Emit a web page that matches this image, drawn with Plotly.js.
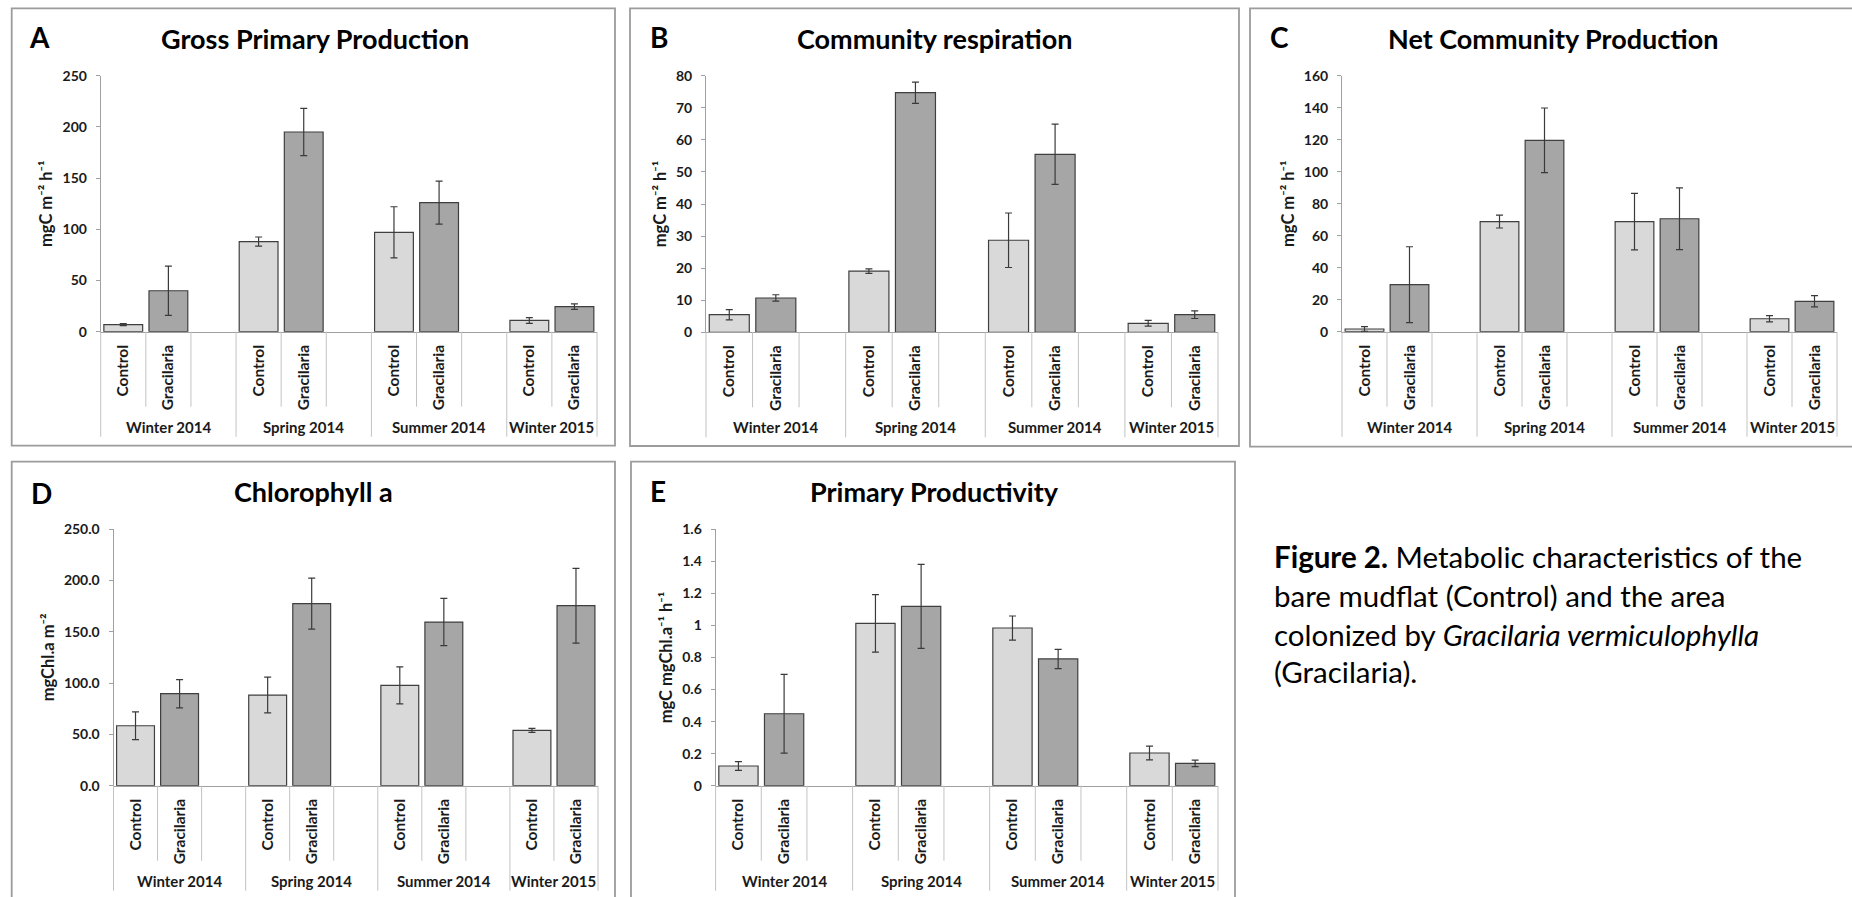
<!DOCTYPE html>
<html>
<head>
<meta charset="utf-8">
<script src="https://cdn.plot.ly/plotly-3.0.1.min.js"></script>
<style>
html,body{margin:0;padding:0;background:#fff;overflow:hidden}
#chart{width:1852px;height:897px}
</style>
</head>
<body>
<div id="chart"></div>
<script>
// ---------------- DATA ----------------
const seasons = ['Winter 2014', 'Spring 2014', 'Summer 2014', 'Winter 2015'];
const treatments = ['Control', 'Gracilaria'];

const panelLetters = ['A', 'B', 'C', 'D', 'E'];
const panelTitles = ['Gross Primary Production', 'Community respiration', 'Net Community Production', 'Chlorophyll a', 'Primary Productivity'];
const yTitles = ['mgC m⁻² h⁻¹', 'mgC m⁻² h⁻¹', 'mgC m⁻² h⁻¹', 'mgChl.a m⁻²', 'mgC mgChl.a⁻¹ h⁻¹'];

// Gross Primary Production
const gppControl = [7, 88, 97, 11];
const gppControlErr = [1, 4.5, 25, 2.8];
const gppGracilaria = [40, 195, 126, 24.5];
const gppGracilariaErr = [24, 23, 21, 2.7];
const gppTickVals = [0, 50, 100, 150, 200, 250];
const gppTickText = ['0', '50', '100', '150', '200', '250'];

// Community respiration
const crControl = [5.5, 19.1, 28.7, 2.8];
const crControlErr = [1.6, 0.7, 8.5, 0.9];
const crGracilaria = [10.7, 74.7, 55.5, 5.5];
const crGracilariaErr = [1.0, 3.3, 9.4, 1.2];
const crTickVals = [0, 10, 20, 30, 40, 50, 60, 70, 80];
const crTickText = ['0', '10', '20', '30', '40', '50', '60', '70', '80'];

// Net Community Production
const ncpControl = [1.7, 68.8, 68.8, 8.1];
const ncpControlErr = [1.5, 4, 17.6, 1.9];
const ncpGracilaria = [29.4, 119.6, 70.6, 19];
const ncpGracilariaErr = [23.7, 20.2, 19.3, 3.5];
const ncpTickVals = [0, 20, 40, 60, 80, 100, 120, 140, 160];
const ncpTickText = ['0', '20', '40', '60', '80', '100', '120', '140', '160'];

// Chlorophyll a
const chlControl = [58.4, 88.3, 97.7, 53.9];
const chlControlErr = [13.5, 17.4, 18, 2];
const chlGracilaria = [89.6, 177.3, 159.4, 175.3];
const chlGracilariaErr = [13.8, 24.8, 23, 36.4];
const chlTickVals = [0, 50, 100, 150, 200, 250];
const chlTickText = ['0.0', '50.0', '100.0', '150.0', '200.0', '250.0'];

// Primary Productivity
const ppControl = [0.123, 1.013, 0.984, 0.204];
const ppControlErr = [0.027, 0.179, 0.075, 0.043];
const ppGracilaria = [0.449, 1.119, 0.791, 0.139];
const ppGracilariaErr = [0.246, 0.262, 0.06, 0.02];
const ppTickVals = [0, 0.2, 0.4, 0.6, 0.8, 1, 1.2, 1.4, 1.6];
const ppTickText = ['0', '0.2', '0.4', '0.6', '0.8', '1', '1.2', '1.4', '1.6'];

const captionLines = [
  '<b>Figure 2.</b> Metabolic characteristics of the',
  'bare mudflat (Control) and the area',
  'colonized by <i>Gracilaria vermiculophylla</i>',
  '(Gracilaria).'
];

// ---------------- LAYOUT GEOMETRY (pixels) ----------------
const W = 1852, H = 897;
const px = x => x / W;
const py = y => 1 - y / H;
const FONT = 'Lato, "Liberation Sans", Arial, sans-serif';
const TEXT = '#1a1a1a';

const panels = [
  {control: gppControl, controlErr: gppControlErr, grac: gppGracilaria, gracErr: gppGracilariaErr, tv: gppTickVals, tt: gppTickText,
   plot: [100.7, 597, 75.7, 331.7], box: [11.7, 615, 8.3, 445.7], letter: [39, 37], title: [314.5, 39]},
  {control: crControl, controlErr: crControlErr, grac: crGracilaria, gracErr: crGracilariaErr, tv: crTickVals, tt: crTickText,
   plot: [706, 1218, 75.7, 332.3], box: [630, 1239, 8.3, 446], letter: [658.5, 37.4], title: [934, 39]},
  {control: ncpControl, controlErr: ncpControlErr, grac: ncpGracilaria, gracErr: ncpGracilariaErr, tv: ncpTickVals, tt: ncpTickText,
   plot: [1342, 1837, 75.7, 331.7], box: [1250, 1880, 8.3, 446.7], letter: [1279, 37.4], title: [1553, 39]},
  {control: chlControl, controlErr: chlControlErr, grac: chlGracilaria, gracErr: chlGracilariaErr, tv: chlTickVals, tt: chlTickText,
   plot: [113.5, 598, 529, 785.7], box: [11.7, 615, 461.7, 920], letter: [41, 493.5], title: [313, 491.2]},
  {control: ppControl, controlErr: ppControlErr, grac: ppGracilaria, gracErr: ppGracilariaErr, tv: ppTickVals, tt: ppTickText,
   plot: [715.6, 1218, 529.3, 785.7], box: [631, 1235, 461.7, 920], letter: [658, 491], title: [934.5, 491.2]}
];

// category slots: Control, Gracilaria, (spacer) per season; last season has no spacer
const keys = [], tickvals = [], ticktext = [], groupSpans = [];
seasons.forEach((s, gi) => {
  const start = keys.length;
  treatments.forEach(t => { keys.push(s + ' | ' + t); tickvals.push(s + ' | ' + t); ticktext.push(t); });
  if (gi < seasons.length - 1) keys.push(s + ' | ');
  groupSpans.push([start - 0.5, keys.length - 0.5]);
});
const nSlots = keys.length;

const data = [];
const layout = {
  width: W, height: H,
  margin: {l: 0, r: 0, t: 0, b: 0},
  paper_bgcolor: '#ffffff', plot_bgcolor: '#ffffff',
  showlegend: false,
  barmode: 'overlay',
  font: {family: FONT, color: TEXT},
  shapes: [], annotations: []
};

const barColors = ['#d9d9d9', '#a6a6a6'];
const AXIS_LINE = '#a0a0a0';
const SEP_LINE = '#c3c3c3';
const SHORT_LEN = 75, LONG_LEN = 105, GROUP_LABEL = 95;

panels.forEach((p, i) => {
  const n = i + 1;
  const xid = n === 1 ? 'x' : 'x' + n;
  const yid = n === 1 ? 'y' : 'y' + n;
  const xkey = n === 1 ? 'xaxis' : 'xaxis' + n;
  const ykey = n === 1 ? 'yaxis' : 'yaxis' + n;
  const [x0, x1, y0, y1] = p.plot;
  const plotH = y1 - y0;

  const series = [[p.control, p.controlErr], [p.grac, p.gracErr]];
  series.forEach(([vals, errs], ti) => {
    data.push({
      type: 'bar', name: treatments[ti],
      x: seasons.map(s => s + ' | ' + treatments[ti]),
      y: vals,
      width: 0.86,
      marker: {color: barColors[ti], line: {color: '#3f3f3f', width: 1.2}},
      error_y: {type: 'data', array: errs, visible: true, color: '#3a3a3a', thickness: 1.2, width: 3.5},
      xaxis: xid, yaxis: yid, hoverinfo: 'skip'
    });
  });

  layout[xkey] = {
    domain: [px(x0), px(x1)], anchor: yid,
    type: 'category', categoryorder: 'array', categoryarray: keys,
    range: [-0.5, nSlots - 0.5],
    tickmode: 'array', tickvals: tickvals, ticktext: ticktext,
    tickangle: -90, ticks: '', ticklabelstandoff: 6,
    tickfont: {family: FONT, size: 15.5, color: TEXT, weight: 700},
    showline: true, linecolor: AXIS_LINE, linewidth: 1,
    showgrid: false, zeroline: false, fixedrange: true
  };
  const ymax = p.tv[p.tv.length - 1];
  layout[ykey] = {
    domain: [py(y1), py(y0)], anchor: xid,
    range: [0, ymax],
    tickmode: 'array', tickvals: p.tv, ticktext: p.tt,
    ticks: 'outside', ticklen: 4, tickcolor: AXIS_LINE, ticklabelstandoff: 6,
    tickfont: {family: FONT, size: 14, color: TEXT, weight: 700},
    showline: true, linecolor: AXIS_LINE, linewidth: 1,
    showgrid: false, zeroline: false, fixedrange: true,
    title: {text: yTitles[i], standoff: 5, font: {family: FONT, size: 16.5, color: TEXT, weight: 700}}
  };

  // category separator lines below the axis
  const shortDepth = -SHORT_LEN / plotH, longDepth = -LONG_LEN / plotH;
  groupSpans.forEach(([a, b], gi) => {
    const isFirst = gi === 0;
    layout.shapes.push({type: 'line', xref: isFirst ? xid + ' domain' : xid, yref: yid + ' domain',
      x0: isFirst ? 0 : a, x1: isFirst ? 0 : a, y0: 0, y1: longDepth, line: {color: SEP_LINE, width: 1}});
    if (gi === groupSpans.length - 1) {
      layout.shapes.push({type: 'line', xref: xid + ' domain', yref: yid + ' domain',
        x0: 1, x1: 1, y0: 0, y1: longDepth, line: {color: SEP_LINE, width: 1}});
    }
    for (let k = a + 1; k < b; k++) {
      layout.shapes.push({type: 'line', xref: xid, yref: yid + ' domain',
        x0: k, x1: k, y0: 0, y1: shortDepth, line: {color: SEP_LINE, width: 1}});
    }
    layout.annotations.push({xref: xid, yref: yid + ' domain', x: (a + b) / 2, y: -GROUP_LABEL / plotH,
      text: seasons[gi], showarrow: false, xanchor: 'center', yanchor: 'middle',
      font: {family: FONT, size: 15, color: TEXT, weight: 700}});
  });

  // panel border
  const [bx0, bx1, by0, by1] = p.box;
  layout.shapes.push({type: 'rect', xref: 'paper', yref: 'paper', x0: px(bx0), x1: px(bx1), y0: py(by1), y1: py(by0),
    line: {color: '#9c9c9c', width: 1.8}, fillcolor: 'rgba(0,0,0,0)', layer: 'below'});

  // panel letter and title
  layout.annotations.push({xref: 'paper', yref: 'paper', x: px(p.letter[0]), y: py(p.letter[1]),
    text: panelLetters[i], showarrow: false, xanchor: 'center', yanchor: 'middle',
    font: {family: FONT, size: 28, color: '#000', weight: 700}});
  layout.annotations.push({xref: 'paper', yref: 'paper', x: px(p.title[0]), y: py(p.title[1]),
    text: panelTitles[i], showarrow: false, xanchor: 'center', yanchor: 'middle',
    font: {family: FONT, size: 27, color: '#000', weight: 700}});
});

// caption
const capY = [556.4, 595.7, 634.7, 671.7];
captionLines.forEach((line, li) => {
  layout.annotations.push({xref: 'paper', yref: 'paper', x: px(1272), y: py(capY[li]),
    text: line, showarrow: false, xanchor: 'left', yanchor: 'middle', align: 'left',
    font: {family: FONT, size: 29.5, color: '#000'}});
});

Plotly.newPlot('chart', data, layout, {displayModeBar: false, staticPlot: true});
</script>
</body>
</html>
